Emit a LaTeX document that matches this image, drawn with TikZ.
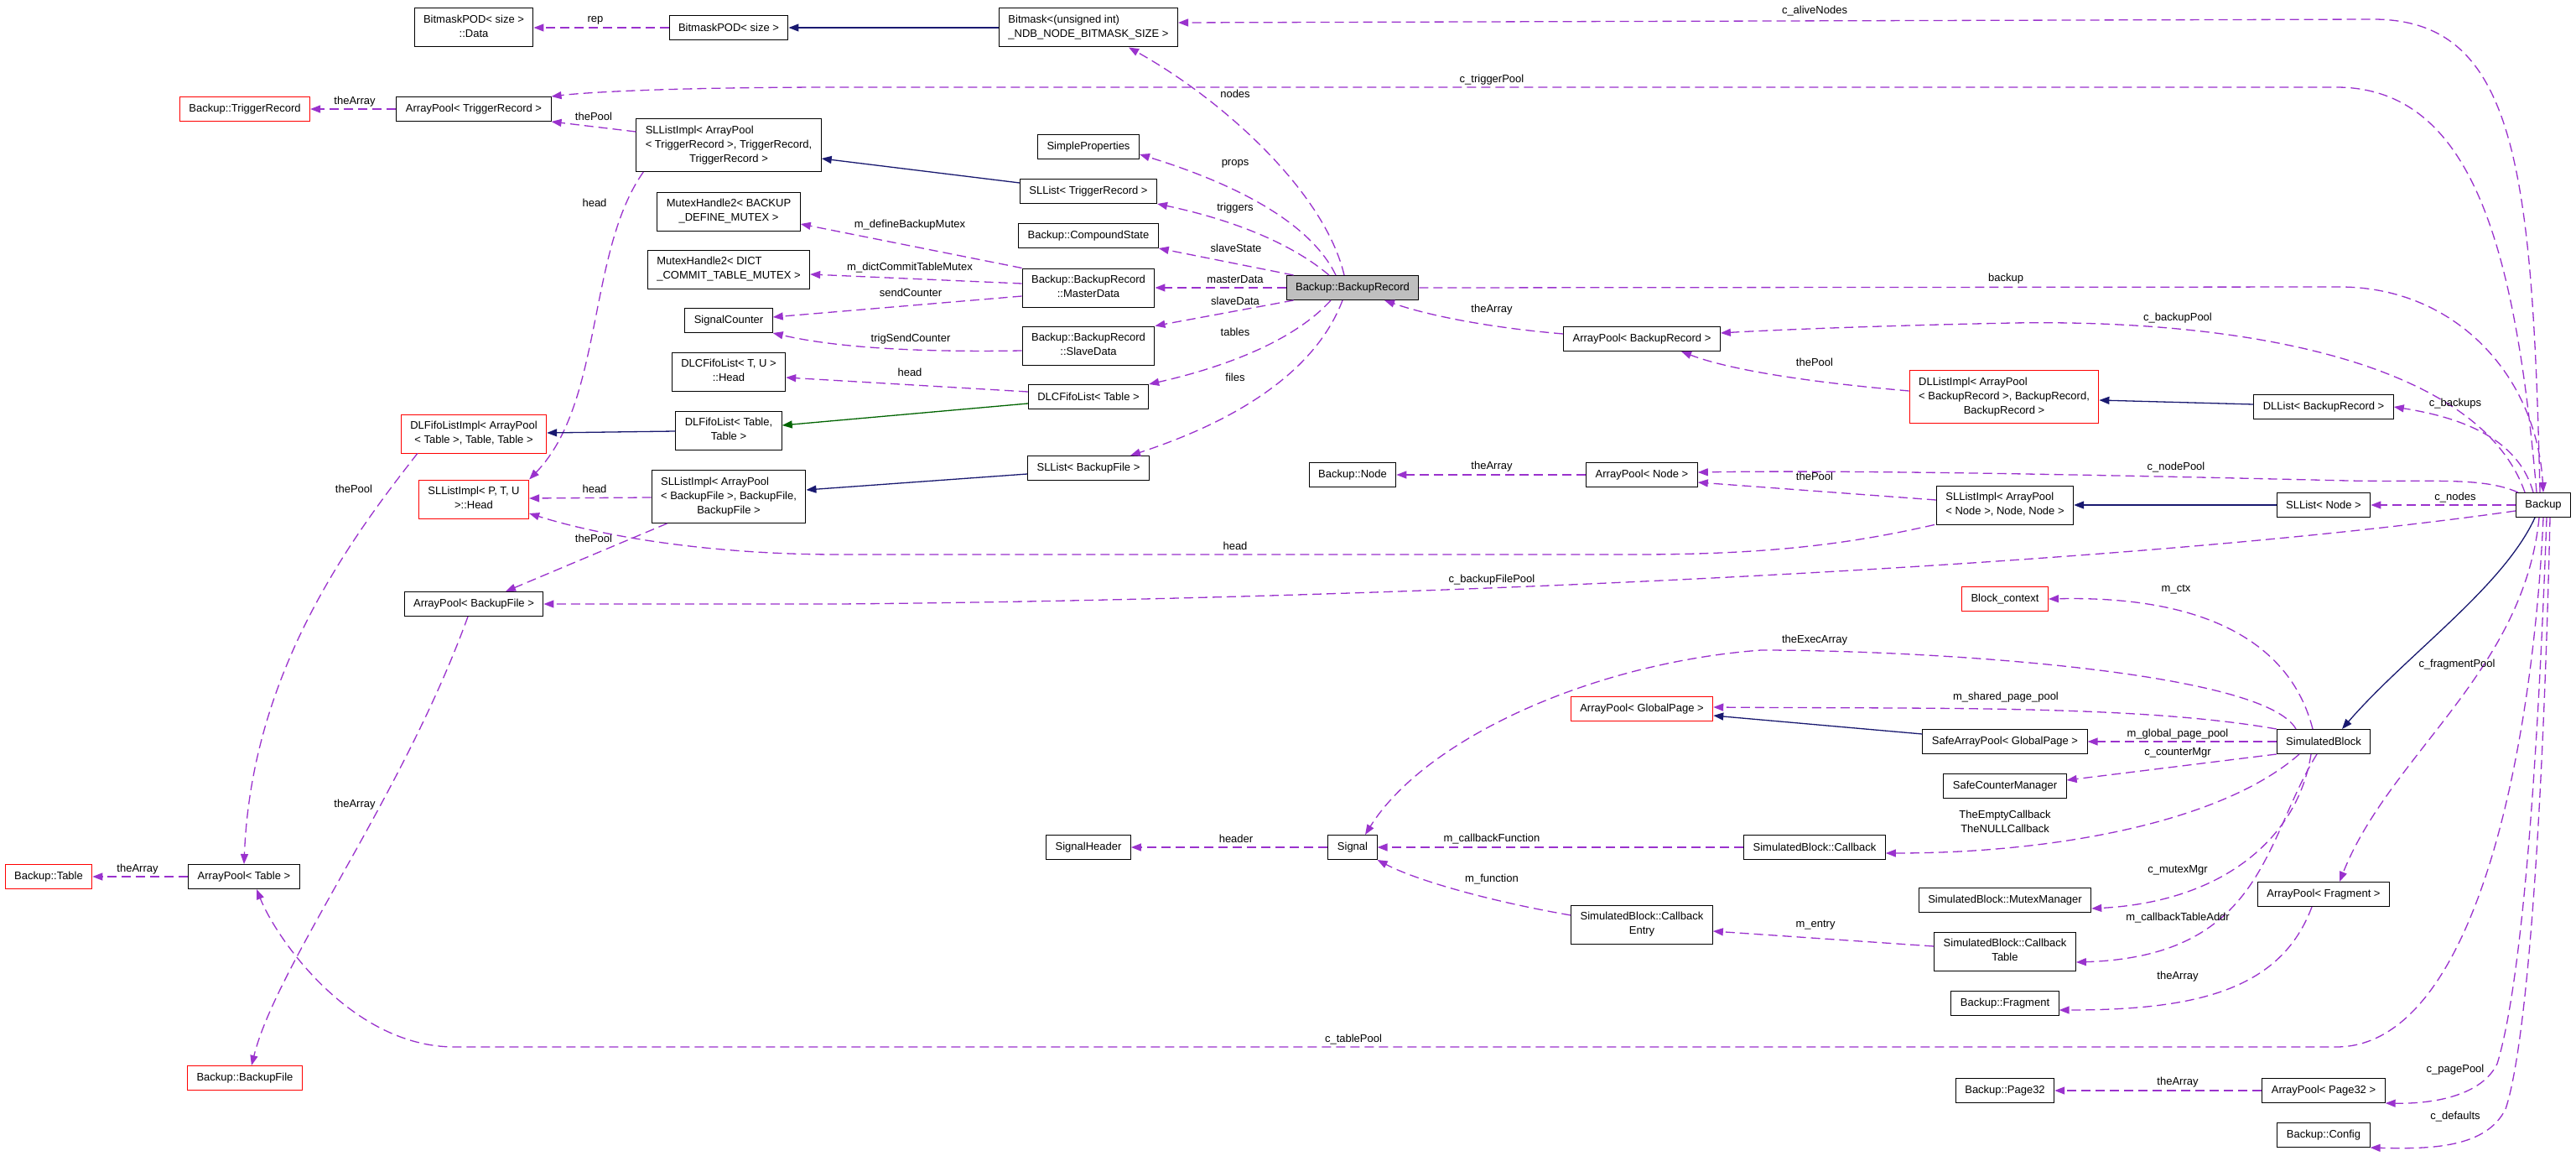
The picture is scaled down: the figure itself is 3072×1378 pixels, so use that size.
\documentclass[tikz,border=0pt]{standalone}
\usepackage{fontspec}
\setmainfont{Liberation Sans}
\usepackage{xcolor}
\usepackage{tikz}
\usetikzlibrary{arrows.meta}

\definecolor{orchid}{RGB}{154,50,205}
\definecolor{midblue}{RGB}{25,25,112}
\definecolor{dkgreen}{RGB}{0,100,0}

% first lines flush left, last line centred (as the class boxes print them)
\newcommand{\boxlines}[2]{\begin{tabular}{@{}l@{}}#1\\\multicolumn{1}{@{}c@{}}{#2}\end{tabular}}

\begin{document}
\begin{tikzpicture}[
    x=1pt, y=-1pt,
    >={Triangle[length=12pt,width=9pt]},
    cls/.style     = {rectangle, draw=black, fill=white, line width=1pt,
                      font=\fontsize{13}{17}\selectfont,
                      inner xsep=11pt, inner ysep=6pt, minimum height=29pt},
    clsred/.style  = {cls, draw=red},
    clsmain/.style = {cls, fill=black!25},
    mem/.style     = {->, draw=orchid, line width=1.3pt, dash pattern=on 11pt off 6pt},
    inh/.style     = {->, draw=midblue, line width=1.3pt},
    tpl/.style     = {->, draw=dkgreen, line width=1.3pt},
    lbl/.style     = {font=\fontsize{13}{17}\selectfont, inner sep=0pt, align=center},
]
\fill[white] (0,0) rectangle (3072,1378);
\useasboundingbox (0,0) rectangle (3072,1378);

% =============================== class boxes ===============================
\node[clsred] (tbl)     at (58,1045)  {Backup::Table};
\node[clsred] (trigRec) at (292,130)  {Backup::TriggerRecord};
\node[cls]    (apTable) at (291,1045) {ArrayPool< Table >};
\node[clsred] (bkFile)  at (292,1285) {Backup::BackupFile};

\node[cls]    (bmData)  at (565,33)   {\boxlines{BitmaskPOD< size >}{::Data}};
\node[cls]    (apTrig)  at (565,130)  {ArrayPool< TriggerRecord >};
\node[clsred] (dlfImpl) at (565,517)  {\boxlines{DLFifoListImpl< ArrayPool}{< Table >, Table, Table >}};
\node[clsred] (sllHead) at (565,595)  {\boxlines{SLListImpl< P, T, U}{>::Head}};
\node[cls]    (apFile)  at (565,720)  {ArrayPool< BackupFile >};

\node[cls] (bmPod)    at (869,33)  {BitmaskPOD< size >};
\node[cls] (sllTrig)  at (869,173) {\boxlines{SLListImpl< ArrayPool\\< TriggerRecord >, TriggerRecord,}{TriggerRecord >}};
\node[cls] (mhDefine) at (869,252) {\boxlines{MutexHandle2< BACKUP}{\_DEFINE\_MUTEX >}};
\node[cls] (mhDict)   at (869,321) {\boxlines{MutexHandle2< DICT}{\_COMMIT\_TABLE\_MUTEX >}};
\node[cls] (sigCnt)   at (869,382) {SignalCounter};
\node[cls] (dlcHead)  at (869,443) {\boxlines{DLCFifoList< T, U >}{::Head}};
\node[cls] (dlfList)  at (869,513) {\boxlines{DLFifoList< Table,}{Table >}};
\node[cls] (sllFile)  at (869,592) {\boxlines{SLListImpl< ArrayPool\\< BackupFile >, BackupFile,}{BackupFile >}};

\node[cls] (bitmask)   at (1298,33)   {\boxlines{Bitmask<(unsigned int)}{\_NDB\_NODE\_BITMASK\_SIZE >}};
\node[cls] (props)     at (1298,175)  {SimpleProperties};
\node[cls] (slTrig)    at (1298,228)  {SLList< TriggerRecord >};
\node[cls] (compState) at (1298,281)  {Backup::CompoundState};
\node[cls] (master)    at (1298,343)  {\boxlines{Backup::BackupRecord}{::MasterData}};
\node[cls] (slave)     at (1298,412)  {\boxlines{Backup::BackupRecord}{::SlaveData}};
\node[cls] (dlcTable)  at (1298,473)  {DLCFifoList< Table >};
\node[cls] (slFile)    at (1298,558)  {SLList< BackupFile >};
\node[cls] (sigHdr)    at (1298,1010) {SignalHeader};

\node[clsmain] (rec)    at (1613,343)  {Backup::BackupRecord};
\node[cls]     (bNode)  at (1613,566)  {Backup::Node};
\node[cls]     (signal) at (1613,1010) {Signal};

\node[cls]    (apRec)    at (1958,404)  {ArrayPool< BackupRecord >};
\node[cls]    (apNode)   at (1958,566)  {ArrayPool< Node >};
\node[clsred] (apGlobal) at (1958,845)  {ArrayPool< GlobalPage >};
\node[cls]    (cbEntry)  at (1958,1102) {\boxlines{SimulatedBlock::Callback}{Entry}};
\node[cls]    (callback) at (2164,1010) {SimulatedBlock::Callback};

\node[clsred] (dllImpl)  at (2390,473)  {\boxlines{DLListImpl< ArrayPool\\< BackupRecord >, BackupRecord,}{BackupRecord >}};
\node[cls]    (sllNode)  at (2391,602)  {\boxlines{SLListImpl< ArrayPool}{< Node >, Node, Node >}};
\node[clsred] (blockCtx) at (2391,714)  {Block\_context};
\node[cls]    (safeAP)   at (2391,884)  {SafeArrayPool< GlobalPage >};
\node[cls]    (safeCnt)  at (2391,937)  {SafeCounterManager};
\node[cls]    (mutexMgr) at (2391,1073) {SimulatedBlock::MutexManager};
\node[cls]    (cbTable)  at (2391,1134) {\boxlines{SimulatedBlock::Callback}{Table}};
\node[cls]    (fragment) at (2391,1196) {Backup::Fragment};
\node[cls]    (page32)   at (2391,1300) {Backup::Page32};

\node[cls] (dlList)   at (2771,485)  {DLList< BackupRecord >};
\node[cls] (slNode)   at (2771,602)  {SLList< Node >};
\node[cls] (simBlock) at (2771,884)  {SimulatedBlock};
\node[cls] (apFrag)   at (2771,1066) {ArrayPool< Fragment >};
\node[cls] (apPage)   at (2771,1300) {ArrayPool< Page32 >};
\node[cls] (config)   at (2771,1353) {Backup::Config};

\node[cls] (backup) at (3033,602) {Backup};

% =============================== bitmask / trigger pool ===============================
\draw[mem] (bmPod.west) -- (bmData.east);
\node[lbl] (lRep) at (710,24) {rep};
\draw[inh] (bitmask.west) -- (bmPod.east);
\draw[mem] (apTrig.west) -- (trigRec.east);
\node[lbl] (lTrigArr) at (423,121) {theArray};
\draw[mem] (sllTrig.west |- 0,157) -- (apTrig.south east);
\node[lbl] (lTrigPool) at (708,139) {thePool};
\draw[inh] (slTrig.west |- 0,218) -- (sllTrig.east |- 0,189);
\draw[mem] ([xshift=9pt]sllTrig.south west) .. controls (700,300) and (720,480) .. (sllHead.north east);
\node[lbl] (lTrigHead) at (709,242) {head};

% =============================== master / slave data ===============================
\draw[mem] (master.north west) -- (mhDefine.east |- 0,267);
\node[lbl] (lDefMutex) at (1085,268) {m\_defineBackupMutex};
\draw[mem] (master.west |- 0,338) -- (mhDict.east |- 0,327);
\node[lbl] (lDictMutex) at (1085,319) {m\_dictCommitTableMutex};
\draw[mem] (master.west |- 0,353) -- (sigCnt.east |- 0,378);
\node[lbl] (lSendCnt) at (1086,349) {sendCounter};
\draw[mem] (slave.west |- 0,418) .. controls (1100,420) and (1000,415) .. (sigCnt.south east);
\node[lbl] (lTrigSend) at (1086,404) {trigSendCounter};

% =============================== table / file lists ===============================
\draw[mem] (dlcTable.west |- 0,467) -- (dlcHead.east |- 0,450);
\node[lbl] (lDlcHead) at (1085,444) {head};
\draw[tpl] (dlcTable.west |- 0,481) -- (dlfList.east |- 0,507);
\draw[inh] (dlfList.west |- 0,514) -- (dlfImpl.east |- 0,516);
\draw[mem] ([xshift=20pt]dlfImpl.south west) .. controls (420,640) and (300,800) .. (apTable.north);
\node[lbl] (lDlfPool) at (422,583) {thePool};
\draw[mem] (apTable.west) -- (tbl.east);
\node[lbl] (lTblArr) at (164,1036) {theArray};
\draw[mem] (sllFile.west |- 0,593) -- (sllHead.east |- 0,594);
\node[lbl] (lFileHead) at (709,583) {head};
\draw[inh] (slFile.west |- 0,565) -- (sllFile.east |- 0,584);
\draw[mem] ([xshift=19pt]sllFile.south west) -- ([xshift=38pt]apFile.north);
\node[lbl] (lFilePool) at (708,642) {thePool};
\draw[mem] ([xshift=-7pt]apFile.south) .. controls (480,950) and (330,1150) .. ([xshift=8pt]bkFile.north);
\node[lbl] (lFileArr) at (423,959) {theArray};

% =============================== BackupRecord members ===============================
\draw[mem] ([xshift=-10pt]rec.north) .. controls (1580,230) and (1460,120) .. ([xshift=48pt]bitmask.south);
\node[lbl] (lNodes) at (1473,112) {nodes};
\draw[mem] ([xshift=-20pt]rec.north) .. controls (1560,260) and (1460,215) .. (props.east |- 0,184);
\node[lbl] (lProps) at (1473,195) {props};
\draw[mem] ([xshift=-28pt]rec.north) .. controls (1540,290) and (1470,262) .. (slTrig.south east);
\node[lbl] (lTriggers) at (1473,248) {triggers};
\draw[mem] ([xshift=9pt]rec.north west) -- (compState.south east);
\node[lbl] (lSlaveState) at (1474,296) {slaveState};
\draw[mem] (rec.west) -- (master.east);
\node[lbl] (lMasterData) at (1473,333) {masterData};
\draw[mem] ([xshift=9pt]rec.south west) -- (slave.north east);
\node[lbl] (lSlaveData) at (1473,359) {slaveData};
\draw[mem] ([xshift=-26pt]rec.south) .. controls (1540,410) and (1450,440) .. (dlcTable.north east);
\node[lbl] (lTables) at (1473,396) {tables};
\draw[mem] ([xshift=-12pt]rec.south) .. controls (1570,440) and (1480,500) .. ([xshift=50pt]slFile.north);
\node[lbl] (lFiles) at (1473,450) {files};
\draw[mem] (apRec.west |- 0,398) .. controls (1770,390) and (1700,375) .. ([xshift=38pt]rec.south);
\node[lbl] (lRecArr) at (1779,369) {theArray};

% =============================== record / node pools ===============================
\draw[mem] (dllImpl.west |- 0,466) .. controls (2150,455) and (2060,440) .. ([xshift=47pt]apRec.south);
\node[lbl] (lRecPool) at (2164,432) {thePool};
\draw[inh] (dlList.west |- 0,482) -- (dllImpl.east |- 0,477);
\draw[mem] (apNode.west) -- (bNode.east);
\node[lbl] (lNodeArr) at (1779,556) {theArray};
\draw[mem] (sllNode.west |- 0,596) -- (apNode.east |- 0,575);
\node[lbl] (lNodePool) at (2164,568) {thePool};
\draw[inh] (slNode.west) -- (sllNode.east);
\draw[mem] ([xshift=-2pt]sllNode.south west) .. controls (2200,650) and (2100,661) .. (1950,661)
           -- (1000,661) .. controls (850,661) and (720,640) .. (sllHead.east |- 0,612);
\node[lbl] (lNodeHead) at (1473,651) {head};

% =============================== Backup, upper side ===============================
\draw[mem] (rec.east) -- (2790,342) .. controls (2930,342) and (3025,450) .. (backup.north);
\node[lbl] (lBackup) at (2392,332) {backup};
\draw[mem] ([xshift=-4pt]backup.north) .. controls (3020,200) and (3000,23) .. (2830,23)
           -- (bitmask.east |- 0,27);
\node[lbl] (lAlive) at (2164,13) {c\_aliveNodes};
\draw[mem] ([xshift=-8pt]backup.north) .. controls (3000,300) and (2950,104) .. (2786,104)
           -- (1000,104) .. controls (800,104) and (700,110) .. (apTrig.north east);
\node[lbl] (lTrigPoolC) at (1779,95) {c\_triggerPool};
\draw[mem] ([xshift=-22pt]backup.north) .. controls (2960,440) and (2700,380) .. (2400,385)
           .. controls (2250,388) and (2120,393) .. (apRec.east |- 0,397);
\node[lbl] (lBackupPool) at (2597,379) {c\_backupPool};
\draw[mem] ([xshift=-12pt]backup.north) .. controls (3005,530) and (2950,500) .. (dlList.east);
\node[lbl] (lBackups) at (2928,481) {c\_backups};
\draw[mem] ([xshift=-30pt]backup.north) .. controls (2960,568) and (2900,575) .. (2800,573)
           .. controls (2500,566) and (2200,560) .. (apNode.east |- 0,563);
\node[lbl] (lNodePoolC) at (2595,557) {c\_nodePool};
\draw[mem] (backup.west) -- (slNode.east);
\node[lbl] (lNodes2) at (2928,593) {c\_nodes};
\draw[mem] (backup.west |- 0,609) .. controls (2500,680) and (1600,715) .. (1000,720) -- (apFile.east);
\node[lbl] (lFilePoolC) at (1779,691) {c\_backupFilePool};

% =============================== Backup, lower side ===============================
\draw[inh] ([xshift=-10pt]backup.south) .. controls (2985,700) and (2870,780) .. ([xshift=22pt]simBlock.north);
\draw[mem] ([xshift=-5pt]backup.south) .. controls (3010,800) and (2850,900) .. ([xshift=19pt]apFrag.north);
\node[lbl] (lFragPool) at (2930,792) {c\_fragmentPool};
\draw[mem] (backup.south) .. controls (3020,900) and (2950,1248) .. (2786,1248)
           -- (542,1248) .. controls (420,1248) and (330,1120) .. ([xshift=15pt]apTable.south);
\node[lbl] (lTablePool) at (1614,1239) {c\_tablePool};
\draw[mem] ([xshift=4pt]backup.south) .. controls (3025,950) and (3005,1180) .. (2978,1268)
           .. controls (2960,1305) and (2905,1316) .. (apPage.south east);
\node[lbl] (lPagePool) at (2928,1275) {c\_pagePool};
\draw[mem] ([xshift=8pt]backup.south) .. controls (3032,1000) and (3012,1250) .. (2988,1322)
           .. controls (2965,1368) and (2900,1370) .. (config.south east);
\node[lbl] (lDefaults) at (2928,1331) {c\_defaults};
\draw[mem] ([xshift=-14pt]apFrag.south) .. controls (2720,1180) and (2620,1204) .. (fragment.east |- 0,1204);
\node[lbl] (lFragArr) at (2597,1164) {theArray};
\draw[mem] (apPage.west) -- (page32.east);
\node[lbl] (lPageArr) at (2597,1290) {theArray};

% =============================== SimulatedBlock members ===============================
\draw[mem] ([xshift=-13pt]simBlock.north) .. controls (2730,760) and (2620,710) .. (blockCtx.east);
\node[lbl] (lCtx) at (2595,703) {m\_ctx};
\draw[mem] ([xshift=-33pt]simBlock.north) .. controls (2700,800) and (2300,775) .. (2100,775)
           .. controls (1900,790) and (1700,880) .. ([xshift=15pt]signal.north);
\node[lbl] (lExec) at (2164,763) {theExecArray};
\draw[mem] (simBlock.north west) .. controls (2550,840) and (2300,845) .. (apGlobal.east |- 0,843);
\node[lbl] (lShared) at (2392,831) {m\_shared\_page\_pool};
\draw[inh] (safeAP.west |- 0,875) -- (apGlobal.east |- 0,853);
\draw[mem] (simBlock.west) -- (safeAP.east);
\node[lbl] (lGlobal) at (2597,875) {m\_global\_page\_pool};
\draw[mem] (simBlock.south west) -- (safeCnt.east |- 0,930);
\node[lbl] (lCounter) at (2597,897) {c\_counterMgr};
\draw[mem] ([xshift=-29pt]simBlock.south) .. controls (2650,980) and (2450,1017) .. (callback.east |- 0,1017);
\node[lbl] (lCallbacks) at (2391,979) {TheEmptyCallback\\TheNULLCallback};
\draw[mem] ([xshift=-15pt]simBlock.south) .. controls (2740,1000) and (2650,1075) .. (mutexMgr.east |- 0,1083);
\node[lbl] (lMutex) at (2597,1037) {c\_mutexMgr};
\draw[mem] ([xshift=-8pt]simBlock.south) .. controls (2700,1000) and (2700,1140) .. (cbTable.east |- 0,1147);
\node[lbl] (lTableAddr) at (2597,1094) {m\_callbackTableAddr};
\draw[mem] (cbTable.west |- 0,1128) -- (cbEntry.east |- 0,1110);
\node[lbl] (lEntry) at (2165,1103) {m\_entry};
\draw[mem] (callback.west) -- (signal.east);
\node[lbl] (lCbFunc) at (1779,1000) {m\_callbackFunction};
\draw[mem] (cbEntry.west |- 0,1091) .. controls (1780,1075) and (1690,1050) .. (signal.south east);
\node[lbl] (lFunc) at (1779,1048) {m\_function};
\draw[mem] (signal.west) -- (sigHdr.east);
\node[lbl] (lHeader) at (1474,1000) {header};

\end{tikzpicture}
\end{document}
